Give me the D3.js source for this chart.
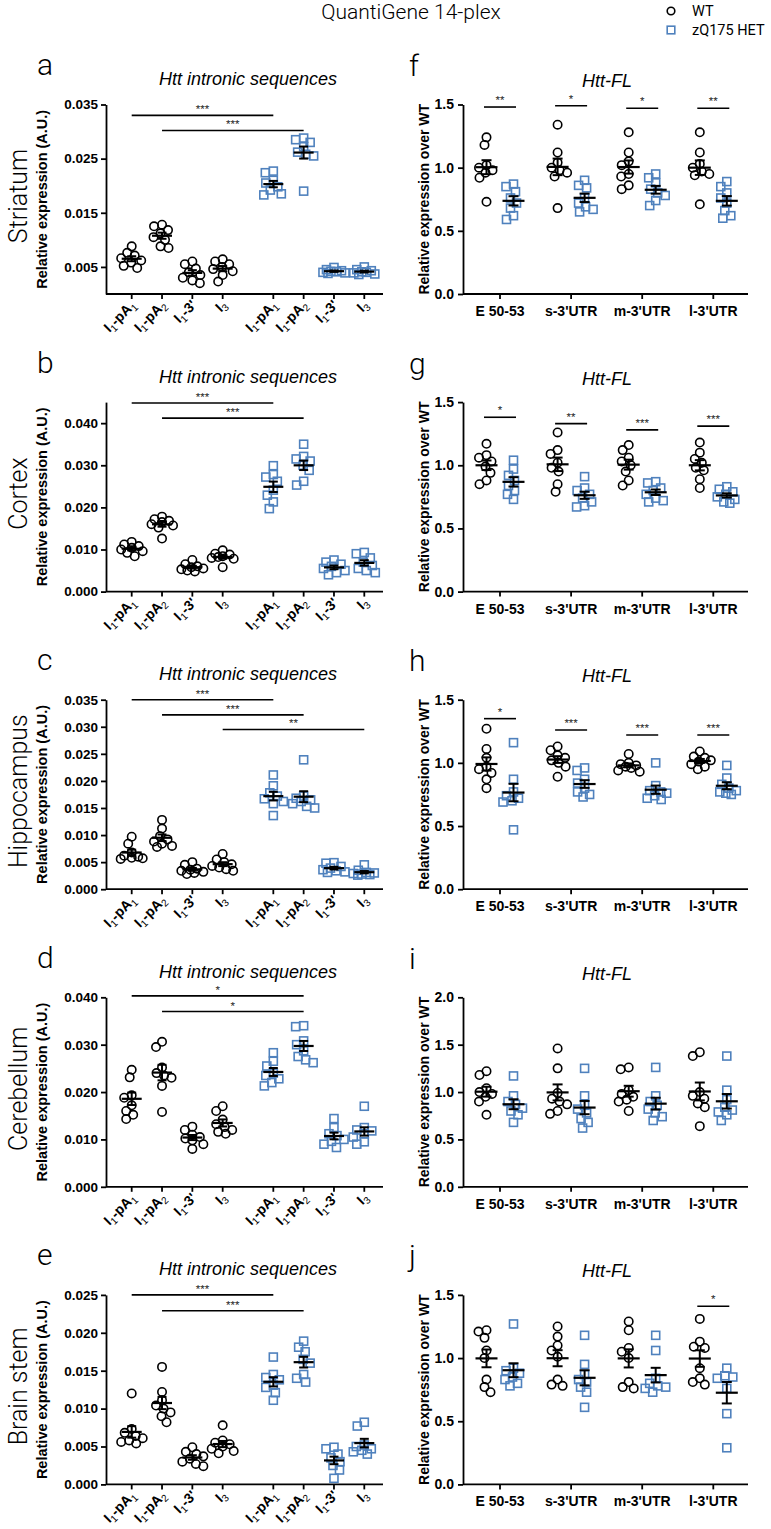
<!DOCTYPE html>
<html><head><meta charset="utf-8">
<script src="https://cdn.jsdelivr.net/npm/d3@7"></script>
<style>body{margin:0;background:#fff} svg{display:block}</style>
</head><body><script>
// ---------------- DATA ----------------
const regions = ["Striatum","Cortex","Hippocampus","Cerebellum","Brain stem"];
const leftLetters = ["a","b","c","d","e"];
const rightLetters = ["f","g","h","i","j"];
const intronCats = ["I_1-pA_1","I_1-pA_2","I_1-3'","I_3"];
const flCats = ["E 50-53","s-3'UTR","m-3'UTR","l-3'UTR"];
const leftTitle = "Htt intronic sequences";
const rightTitle = "Htt-FL";
const leftYLabels = ["Relative expression  (A.U.)","Relative expression  (A.U.)","Relative expression  (A.U.)","Relative expression (A.U.)","Relative expression (A.U.)"];
const rightYLabel = "Relative expression over WT";
const legendLabels = ["WT","zQ175 HET"];

const leftMax = [0.035,0.045,0.035,0.04,0.025];
const leftTicks = [
  [0.005,0.015,0.025,0.035],
  [0,0.01,0.02,0.03,0.04],
  [0,0.005,0.01,0.015,0.02,0.025,0.03,0.035],
  [0,0.01,0.02,0.03,0.04],
  [0,0.005,0.01,0.015,0.02,0.025]
];
const rightMax = [1.5,1.5,1.5,2,1.5];
const rightTicks = [[0,0.5,1,1.5],[0,0.5,1,1.5],[0,0.5,1,1.5],[0,0.5,1,1.5,2],[0,0.5,1,1.5]];

// intronic, per region: [I1-pA1, I1-pA2, I1-3', I3]
const striatumIntronWT = [
  [0.0088,0.0076,0.0071,0.0066,0.0062,0.0058,0.0052,0.0048],
  [0.0128,0.0125,0.0118,0.0112,0.0105,0.0100,0.0088,0.0085],
  [0.0060,0.0055,0.0047,0.0040,0.0035,0.0030,0.0025,0.0020],
  [0.0064,0.0060,0.0055,0.0050,0.0046,0.0042,0.0035,0.0023]];
const striatumIntronHET = [
  [0.0227,0.0224,0.0210,0.0205,0.0198,0.0192,0.0185,0.0183],
  [0.0288,0.0285,0.0280,0.0272,0.0262,0.0258,0.0255,0.0190],
  [0.0049,0.0045,0.0043,0.0042,0.0041,0.0040,0.0039,0.0038],
  [0.0050,0.0045,0.0043,0.0041,0.0040,0.0039,0.0037,0.0036]];
const cortexIntronWT = [
  [0.0118,0.0112,0.0108,0.0104,0.0100,0.0096,0.0092,0.0084],
  [0.0178,0.0172,0.0168,0.0165,0.0160,0.0157,0.0152,0.0126],
  [0.0075,0.0065,0.0060,0.0058,0.0055,0.0053,0.0050,0.0048],
  [0.0098,0.0090,0.0088,0.0084,0.0082,0.0080,0.0078,0.0058]];
const cortexIntronHET = [
  [0.0299,0.0278,0.0272,0.0262,0.0241,0.0229,0.0213,0.0197],
  [0.0350,0.0321,0.0315,0.0310,0.0300,0.0288,0.0262,0.0253],
  [0.0075,0.0070,0.0065,0.0060,0.0055,0.0050,0.0045,0.0040],
  [0.0093,0.0090,0.0080,0.0070,0.0062,0.0055,0.0050,0.0045]];
const hippocampusIntronWT = [
  [0.0097,0.0084,0.0068,0.0062,0.0060,0.0058,0.0057,0.0056],
  [0.0128,0.0112,0.0098,0.0092,0.0088,0.0084,0.0080,0.0078],
  [0.0050,0.0045,0.0038,0.0036,0.0034,0.0032,0.0030,0.0028],
  [0.0065,0.0055,0.0050,0.0046,0.0043,0.0040,0.0037,0.0034]];
const hippocampusIntronHET = [
  [0.0211,0.0191,0.0178,0.0172,0.0167,0.0162,0.0158,0.0136],
  [0.0239,0.0172,0.0168,0.0165,0.0162,0.0158,0.0153,0.0150],
  [0.0049,0.0048,0.0042,0.0039,0.0036,0.0034,0.0032,0.0031],
  [0.0045,0.0035,0.0031,0.0030,0.0029,0.0028,0.0027,0.0026]];
const cerebellumIntronWT = [
  [0.0247,0.0231,0.0193,0.0188,0.0172,0.0160,0.0152,0.0143],
  [0.0306,0.0295,0.0252,0.0240,0.0235,0.0230,0.0213,0.0158],
  [0.0127,0.0120,0.0110,0.0105,0.0102,0.0098,0.0090,0.0080],
  [0.0170,0.0160,0.0142,0.0132,0.0126,0.0120,0.0116,0.0112]];
const cerebellumIntronHET = [
  [0.0283,0.0265,0.0255,0.0240,0.0235,0.0228,0.0220,0.0213],
  [0.0340,0.0338,0.0308,0.0300,0.0287,0.0275,0.0268,0.0262],
  [0.0144,0.0125,0.0112,0.0108,0.0100,0.0096,0.0090,0.0083],
  [0.0170,0.0125,0.0120,0.0118,0.0112,0.0105,0.0095,0.0090]];
const brainstemIntronWT = [
  [0.0120,0.0073,0.0068,0.0064,0.0061,0.0058,0.0056,0.0054],
  [0.0155,0.0122,0.0111,0.0104,0.0100,0.0095,0.0090,0.0082],
  [0.0049,0.0043,0.0040,0.0037,0.0034,0.0030,0.0027,0.0024],
  [0.0078,0.0058,0.0055,0.0053,0.0050,0.0047,0.0044,0.0041]];
const brainstemIntronHET = [
  [0.0168,0.0145,0.0141,0.0138,0.0131,0.0128,0.0121,0.0111],
  [0.0189,0.0181,0.0175,0.0165,0.0160,0.0145,0.0140,0.0135],
  [0.0049,0.0047,0.0040,0.0035,0.0030,0.0025,0.0019,0.0008],
  [0.0082,0.0077,0.0052,0.0050,0.0047,0.0045,0.0043,0.0040]];

// Htt-FL, per region: [E 50-53, s-3'UTR, m-3'UTR, l-3'UTR]
const striatumFLWT = [
  [1.24,1.18,1.02,1.00,0.98,0.96,0.92,0.73],
  [1.34,1.12,1.04,1.00,0.98,0.96,0.93,0.68],
  [1.28,1.12,1.05,1.02,0.95,0.93,0.86,0.83],
  [1.28,1.12,1.03,1.00,0.97,0.95,0.94,0.71]];
const striatumFLHET = [
  [0.87,0.85,0.81,0.76,0.72,0.68,0.62,0.59],
  [0.90,0.86,0.84,0.76,0.72,0.69,0.67,0.65],
  [0.95,0.92,0.88,0.83,0.80,0.78,0.74,0.70],
  [0.89,0.85,0.80,0.76,0.72,0.66,0.62,0.60]];
const cortexFLWT = [
  [1.17,1.08,1.06,1.03,0.99,0.94,0.88,0.85],
  [1.26,1.12,1.09,1.02,0.98,0.95,0.85,0.79],
  [1.16,1.12,1.06,1.03,1.00,0.95,0.88,0.84],
  [1.18,1.10,1.05,1.02,0.98,0.96,0.89,0.82]];
const cortexFLHET = [
  [1.04,0.97,0.92,0.88,0.84,0.80,0.77,0.73],
  [0.91,0.82,0.80,0.77,0.74,0.71,0.68,0.67],
  [0.87,0.86,0.82,0.80,0.77,0.74,0.72,0.71],
  [0.83,0.81,0.79,0.77,0.75,0.73,0.71,0.70]];
const hippocampusFLWT = [
  [1.27,1.11,1.04,0.97,0.95,0.92,0.87,0.80],
  [1.13,1.10,1.06,1.04,1.02,1.00,0.97,0.89],
  [1.07,1.00,0.99,0.98,0.97,0.96,0.94,0.93],
  [1.09,1.05,1.04,1.02,1.01,0.99,0.97,0.95]];
const hippocampusFLHET = [
  [1.16,0.87,0.77,0.74,0.72,0.70,0.69,0.47],
  [0.96,0.94,0.87,0.84,0.80,0.77,0.75,0.73],
  [1.00,0.82,0.78,0.77,0.76,0.74,0.72,0.71],
  [0.98,0.88,0.83,0.80,0.78,0.77,0.76,0.75]];
const cerebellumFLWT = [
  [1.22,1.18,1.04,1.00,0.98,0.95,0.90,0.76],
  [1.46,1.25,0.99,0.93,0.90,0.87,0.80,0.77],
  [1.26,1.24,1.02,0.98,0.95,0.92,0.90,0.80],
  [1.42,1.38,1.00,0.96,0.93,0.88,0.84,0.64]];
const cerebellumFLHET = [
  [1.17,0.96,0.90,0.87,0.83,0.80,0.76,0.68],
  [1.25,0.96,0.86,0.82,0.78,0.72,0.68,0.62],
  [1.26,0.96,0.90,0.86,0.82,0.78,0.74,0.70],
  [1.38,1.02,0.92,0.84,0.81,0.79,0.76,0.70]];
const brainstemFLWT = [
  [1.22,1.21,1.16,1.06,1.00,0.83,0.77,0.73],
  [1.25,1.17,1.10,1.06,1.01,0.83,0.79,0.78],
  [1.29,1.22,1.08,1.05,1.00,0.81,0.77,0.76],
  [1.31,1.13,1.09,1.08,0.92,0.84,0.81,0.79]];
const brainstemFLHET = [
  [1.27,0.92,0.90,0.88,0.85,0.83,0.80,0.78],
  [1.18,0.95,0.87,0.83,0.81,0.77,0.73,0.61],
  [1.18,1.06,0.84,0.80,0.78,0.77,0.76,0.73],
  [0.92,0.86,0.85,0.84,0.76,0.56,0.29]];

// significance bars: intronic [fromCat, toCat, value, label]; FL [cat, value, label]
const striatumIntronSig = [[0,4,0.0330,"***"],[1,5,0.0302,"***"]];
const cortexIntronSig = [[0,4,0.0448,"***"],[1,5,0.0412,"***"]];
const hippocampusIntronSig = [[0,4,0.0350,"***"],[1,5,0.0322,"***"],[3,7,0.0295,"**"]];
const cerebellumIntronSig = [[0,5,0.0403,"*"],[1,5,0.0370,"*"]];
const brainstemIntronSig = [[0,4,0.0250,"***"],[1,5,0.0229,"***"]];
const striatumFLSig = [[0,1.48,"**"],[1,1.49,"*"],[2,1.47,"*"],[3,1.47,"**"]];
const cortexFLSig = [[0,1.38,"*"],[1,1.33,"**"],[2,1.28,"***"],[3,1.31,"***"]];
const hippocampusFLSig = [[0,1.35,"*"],[1,1.26,"***"],[2,1.22,"***"],[3,1.22,"***"]];
const cerebellumFLSig = [];
const brainstemFLSig = [[3,1.41,"*"]];

const intronWT = [striatumIntronWT,cortexIntronWT,hippocampusIntronWT,cerebellumIntronWT,brainstemIntronWT];
const intronHET = [striatumIntronHET,cortexIntronHET,hippocampusIntronHET,cerebellumIntronHET,brainstemIntronHET];
const flWT = [striatumFLWT,cortexFLWT,hippocampusFLWT,cerebellumFLWT,brainstemFLWT];
const flHET = [striatumFLHET,cortexFLHET,hippocampusFLHET,cerebellumFLHET,brainstemFLHET];
const intronSig = [striatumIntronSig,cortexIntronSig,hippocampusIntronSig,cerebellumIntronSig,brainstemIntronSig];
const flSig = [striatumFLSig,cortexFLSig,hippocampusFLSig,cerebellumFLSig,brainstemFLSig];

// ---------------- STYLE / LAYOUT ----------------
const BLUE = "#4f81bd";
const BOLD = "'Liberation Sans', Arial, sans-serif";
const LIGHT = "Roboto, 'Liberation Sans', sans-serif";
const W = 771, H = 1529;
const rowBottom = i => 294 + i*297.6;
const plotH = 189.5;
const L = {axisX:106, xEnd:383, first:131.7, last:364.3};
const R = {axisX:463, xEnd:748, first:500, last:713.3, off:13.5};

const svg = d3.select("body").append("svg").attr("width",W).attr("height",H)
  .attr("font-family",BOLD);

// title + legend
svg.append("text").attr("x",411).attr("y",19).attr("text-anchor","middle")
  .attr("font-family",LIGHT).attr("font-weight",300).attr("font-size",21).text("QuantiGene 14-plex");
svg.append("circle").attr("cx",671).attr("cy",11).attr("r",3.8).attr("fill","none").attr("stroke","#000").attr("stroke-width",1.6);
svg.append("rect").attr("x",667.2).attr("y",26.2).attr("width",7.6).attr("height",7.6).attr("fill","none").attr("stroke",BLUE).attr("stroke-width",1.6);
svg.append("text").attr("x",692).attr("y",16).attr("font-family",LIGHT).attr("font-size",14.5).text(legendLabels[0]);
svg.append("text").attr("x",692).attr("y",35).attr("font-family",LIGHT).attr("font-size",14.5).text(legendLabels[1]);

function swarm(vals, yScale, minD, maxW){
  const pts = vals.map(v=>({v, y:yScale(v), x:0}));
  const order = pts.slice().sort((a,b)=>b.v-a.v);
  const placed = [];
  const cands = [0]; for(let s=0.5;s<=maxW;s+=0.5){cands.push(-s,s);}
  order.forEach(p=>{
    let best=0, bestScore=-1;
    for(const dx of cands){
      let md = Infinity;
      for(const q of placed){ const d = Math.hypot(q.x-dx,q.y-p.y); if(d<md) md=d; }
      if(md>=minD){best=dx;break;}
      if(md>bestScore+0.4){bestScore=md;best=dx;}
    }
    p.x = best; placed.push(p);
  });
  return pts;
}

function drawGroup(g, vals, cx, y, isHet, meanHalf, capHalf){
  const pts = swarm(vals, y, 7.8, 11);
  const gp = g.append("g");
  if(isHet){
    gp.selectAll("rect").data(pts).join("rect")
      .attr("x",d=>cx+d.x-4).attr("y",d=>d.y-4).attr("width",8).attr("height",8)
      .attr("fill","none").attr("stroke",BLUE).attr("stroke-width",1.6);
  } else {
    gp.selectAll("circle").data(pts).join("circle")
      .attr("cx",d=>cx+d.x).attr("cy",d=>d.y).attr("r",4.2)
      .attr("fill","none").attr("stroke","#000").attr("stroke-width",1.6);
  }
  const m = d3.mean(vals), se = d3.deviation(vals)/Math.sqrt(vals.length);
  const eg = g.append("g").attr("stroke","#000").attr("stroke-width",2);
  eg.append("line").attr("x1",cx).attr("x2",cx).attr("y1",y(m-se)).attr("y2",y(m+se));
  eg.append("line").attr("x1",cx-capHalf).attr("x2",cx+capHalf).attr("y1",y(m-se)).attr("y2",y(m-se));
  eg.append("line").attr("x1",cx-capHalf).attr("x2",cx+capHalf).attr("y1",y(m+se)).attr("y2",y(m+se));
  eg.append("line").attr("x1",cx-meanHalf).attr("x2",cx+meanHalf).attr("y1",y(m)).attr("y2",y(m)).attr("stroke-width",2.2);
}

function subLabel(sel, str){
  const parts = str.split(/_(\d)/);
  let prevSub = false;
  parts.forEach((p,k)=>{
    if(p==="") return;
    const isSub = k%2===1;
    const t = sel.append("tspan").text(p);
    if(isSub){ t.attr("font-size",10).attr("font-weight","normal"); }
    const dy = isSub ? (prevSub?0:3) : (prevSub?-3:0);
    if(dy) t.attr("dy",dy);
    prevSub = isSub;
  });
}

function styleAxis(g){
  g.selectAll("path,line").attr("stroke","#000").attr("stroke-width",1.8);
  g.selectAll("text").attr("font-family",BOLD).attr("font-weight","bold").attr("fill","#000");
}

for(let r=0;r<5;r++){
  const bottom = rowBottom(r), top = bottom - plotH;

  // ---------- left panel ----------
  const yL = d3.scaleLinear().domain([0,leftMax[r]]).range([bottom, top]);
  const pos = d3.range(8).map(i => i<4 ? i : i+0.67);
  const xL = d3.scaleLinear().domain([0,7.67]).range([L.first, L.last]);
  const gl = svg.append("g");
  const ya = gl.append("g").attr("transform",`translate(${L.axisX},0)`)
    .call(d3.axisLeft(yL).tickValues(leftTicks[r]).tickFormat(d3.format(".3f")).tickSize(5).tickPadding(3).tickSizeOuter(0));
  styleAxis(ya); ya.selectAll("text").attr("font-size",13.5);
  gl.append("line").attr("x1",L.axisX).attr("x2",L.xEnd).attr("y1",bottom).attr("y2",bottom)
    .attr("stroke","#000").attr("stroke-width",1.8);
  const allCats = intronCats.concat(intronCats);
  pos.forEach((p,i)=>{
    const x = xL(p);
    gl.append("line").attr("x1",x).attr("x2",x).attr("y1",bottom).attr("y2",bottom+5).attr("stroke","#000").attr("stroke-width",1.8);
    const t = gl.append("text").attr("transform",`translate(${x+5},${bottom+12}) rotate(-45)`)
      .attr("text-anchor","end").attr("font-weight","bold").attr("font-size",14);
    subLabel(t, allCats[i]);
  });
  for(let c=0;c<4;c++){
    drawGroup(gl, intronWT[r][c], xL(pos[c]), yL, false, 10, 4.5);
    drawGroup(gl, intronHET[r][c], xL(pos[c+4]), yL, true, 10, 4.5);
  }
  intronSig[r].forEach(([a,b,v,lab])=>{
    gl.append("line").attr("x1",xL(pos[a])).attr("x2",xL(pos[b])).attr("y1",yL(v)).attr("y2",yL(v))
      .attr("stroke","#000").attr("stroke-width",1.6);
    gl.append("text").attr("x",(xL(pos[a])+xL(pos[b]))/2).attr("y",yL(v)-2).attr("text-anchor","middle")
      .attr("font-size",11.5).attr("fill","#222").text(lab);
  });
  gl.append("text").attr("x",248).attr("y",bottom-209).attr("text-anchor","middle")
    .attr("font-style","italic").attr("font-size",18).text(leftTitle);
  gl.append("text").attr("transform",`translate(47,${(top+bottom)/2}) rotate(-90)`).attr("text-anchor","middle")
    .attr("font-weight","bold").attr("font-size",14.5).text(leftYLabels[r]);
  gl.append("text").attr("x",37).attr("y",bottom-219).attr("font-family",LIGHT).attr("font-weight",300)
    .attr("font-size",30).text(leftLetters[r]);
  gl.append("text").attr("transform",`translate(27,${bottom-98}) rotate(-90)`).attr("text-anchor","middle")
    .attr("font-family",LIGHT).attr("font-weight",300).attr("font-size",25).text(regions[r]);

  // ---------- right panel ----------
  const yR = d3.scaleLinear().domain([0,rightMax[r]]).range([bottom, top]);
  const xR = d3.scaleLinear().domain([0,3]).range([R.first, R.last]);
  const gr = svg.append("g");
  const yra = gr.append("g").attr("transform",`translate(${R.axisX},0)`)
    .call(d3.axisLeft(yR).tickValues(rightTicks[r]).tickFormat(d3.format(".1f")).tickSize(5).tickPadding(4).tickSizeOuter(0));
  styleAxis(yra); yra.selectAll("text").attr("font-size",14);
  gr.append("line").attr("x1",R.axisX).attr("x2",R.xEnd).attr("y1",bottom).attr("y2",bottom)
    .attr("stroke","#000").attr("stroke-width",1.8);
  flCats.forEach((c,i)=>{
    const x = xR(i);
    gr.append("line").attr("x1",x).attr("x2",x).attr("y1",bottom).attr("y2",bottom+5).attr("stroke","#000").attr("stroke-width",1.8);
    gr.append("text").attr("x",x).attr("y",bottom+22).attr("text-anchor","middle")
      .attr("font-weight","bold").attr("font-size",14).text(c);
    drawGroup(gr, flWT[r][i], x-R.off, yR, false, 11, 5);
    drawGroup(gr, flHET[r][i], x+R.off, yR, true, 11, 5);
  });
  flSig[r].forEach(([c,v,lab])=>{
    const x = xR(c);
    gr.append("line").attr("x1",x-16).attr("x2",x+16).attr("y1",yR(v)).attr("y2",yR(v))
      .attr("stroke","#000").attr("stroke-width",1.6);
    gr.append("text").attr("x",x).attr("y",yR(v)-3).attr("text-anchor","middle")
      .attr("font-size",11.5).attr("fill","#222").text(lab);
  });
  gr.append("text").attr("x",607).attr("y",bottom-207).attr("text-anchor","middle")
    .attr("font-style","italic").attr("font-size",18).text(rightTitle);
  gr.append("text").attr("transform",`translate(429,${(top+bottom)/2}) rotate(-90)`).attr("text-anchor","middle")
    .attr("font-weight","bold").attr("font-size",14).text(rightYLabel);
  gr.append("text").attr("x",409).attr("y",bottom-218).attr("font-family",LIGHT).attr("font-weight",300)
    .attr("font-size",30).text(rightLetters[r]);
}
</script></body></html>
